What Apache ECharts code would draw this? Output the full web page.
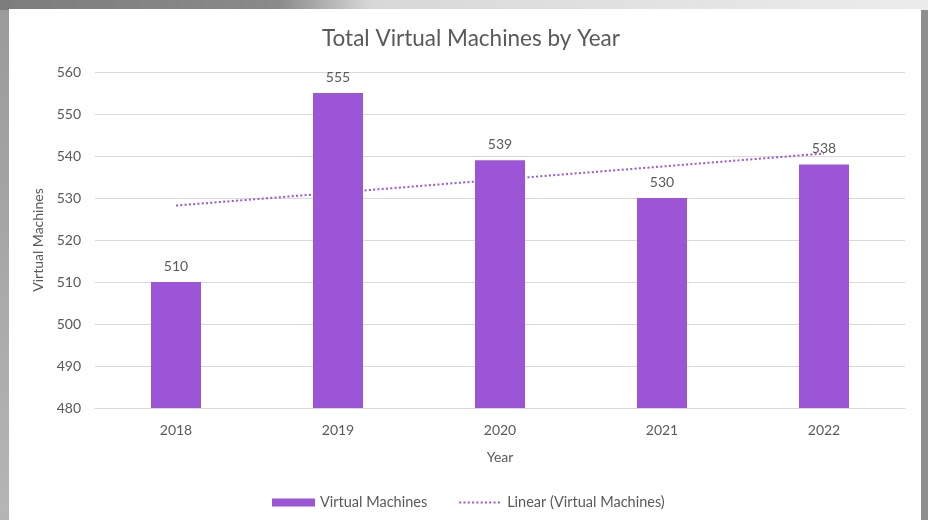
<!DOCTYPE html>
<html>
<head>
<meta charset="utf-8">
<script src="https://cdn.jsdelivr.net/npm/echarts@6/dist/echarts.min.js"></script>
<style>
  html, body { margin: 0; padding: 0; }
  body { width: 928px; height: 520px; position: relative; overflow: hidden;
         background: linear-gradient(to bottom, #9a9a9a 0%, #b5b5b5 100%); }
  #topband { position: absolute; left: 0; top: 0; width: 928px; height: 10px;
         background: linear-gradient(to right, #7d7d7d 0%, #8a8a8a 30%, #d8d8d8 40%, #ececec 100%); }
  #rightband { position: absolute; left: 921px; top: 10px; width: 7px; height: 510px; background: #8e8e8e; }
  #panel { position: absolute; left: 9px; top: 9px; width: 912px; height: 511px; background: #ffffff; }
  #chart { position: absolute; left: 0; top: 0; width: 928px; height: 520px; }
</style>
</head>
<body>
<div id="topband"></div>
<div id="rightband"></div>
<div id="panel"></div>
<div id="chart"></div>
<script>
const categories = ['2018', '2019', '2020', '2021', '2022'];
const vmValues = [510, 555, 539, 530, 538];
const trendValues = [528.2, 531.3, 534.4, 537.5, 540.6];
const yTicks = { min: 480, max: 560, interval: 10 };

const chart = echarts.init(document.getElementById('chart'), null, { renderer: 'canvas' });
const FONT = 'Lato';
const TXT = '#595959';
const PURPLE = '#9b55d6';

chart.setOption({
  backgroundColor: 'transparent',
  animation: false,
  title: {
    text: 'Total Virtual Machines by Year',
    left: 466, top: 22, textAlign: 'center',
    textStyle: { fontFamily: FONT, fontSize: 22.5, fontWeight: 'normal', color: TXT }
  },
  legend: {
    left: 267, top: 490,
    itemGap: 31, itemWidth: 43, itemHeight: 8,
    textStyle: { fontFamily: FONT, fontSize: 14.5, color: TXT },
    data: [
      { name: 'Virtual Machines', icon: 'rect' },
      { name: 'Linear (Virtual Machines)', itemStyle: { opacity: 0 } }
    ]
  },
  grid: { left: 95, right: 23, top: 72, bottom: 112, containLabel: false },
  xAxis: {
    type: 'category', data: categories,
    name: 'Year', nameLocation: 'middle', nameGap: 42,
    nameTextStyle: { fontFamily: FONT, fontSize: 14, color: TXT },
    axisLine: { lineStyle: { color: '#d9d9d9', width: 1 } },
    axisTick: { show: false },
    axisLabel: { fontFamily: FONT, fontSize: 14, color: TXT, margin: 15 }
  },
  yAxis: {
    type: 'value', min: yTicks.min, max: yTicks.max, interval: yTicks.interval,
    name: 'Virtual Machines', nameLocation: 'middle', nameGap: 47, nameRotate: 90,
    nameTextStyle: { fontFamily: FONT, fontSize: 14, color: TXT },
    axisLine: { show: false }, axisTick: { show: false },
    axisLabel: { fontFamily: FONT, fontSize: 14, color: TXT, margin: 14 },
    splitLine: { lineStyle: { color: '#d9d9d9', width: 1 } }
  },
  series: [
    {
      name: 'Virtual Machines', type: 'bar', data: vmValues, barWidth: 50, z: 3,
      itemStyle: { color: PURPLE },
      label: { show: true, position: 'top', distance: 9, fontFamily: FONT, fontSize: 14, color: TXT }
    },
    {
      name: 'Linear (Virtual Machines)', type: 'line', data: trendValues, z: 2,
      symbol: 'none', showSymbol: false,
      lineStyle: { color: PURPLE, width: 2, type: [2, 2.3] },
      itemStyle: { color: PURPLE }
    }
  ]
});
</script>
</body>
</html>
